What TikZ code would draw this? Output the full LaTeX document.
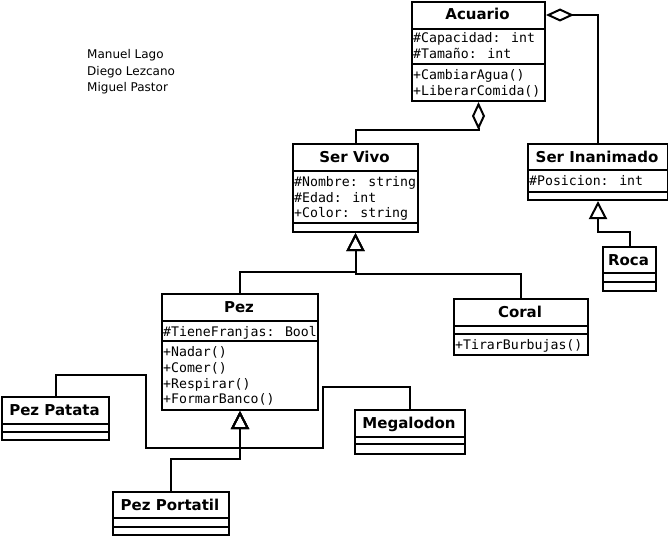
\documentclass[tikz,border=0pt]{standalone}
\usepackage{fontspec}
\newfontfamily\dvs{DejaVu Sans}
\newfontfamily\dvm{DejaVu Sans Mono}
\usetikzlibrary{arrows.meta,calc}
\begin{document}
\begin{tikzpicture}[x=1pt,y=-1pt,
  cls/.style={draw, line width=2pt, inner sep=0pt, anchor=north west, fill=white},
  sep/.style={line width=2pt},
  ttl/.style={font=\dvs\bfseries\fontsize{15}{18}\selectfont, anchor=base, inner sep=0pt},
  attr/.style={font=\dvm\fontsize{13.2}{16}\selectfont, anchor=base west, inner sep=0pt},
  who/.style={font=\dvs\fontsize{12}{16}\selectfont, anchor=base west, inner sep=0pt},
  conn/.style={line width=2pt},
  agg/.style={conn, {Diamond[open,length=28pt,width=13pt,line width=2pt]}-},
  gen/.style={conn, {Triangle[open,length=18pt,width=18pt,line width=2pt]}-},
]
\useasboundingbox (0,0) rectangle (668,535);

% authors
\node[who] (n1) at (87,59) {Manuel Lago};
\node[who] (n2) at (87,75) {Diego Lezcano};
\node[who] (n3) at (87,91) {Miguel Pastor};

% Acuario
\node[cls, minimum width=133pt, minimum height=99pt] (acuario) at (411,1) {};
\draw[sep] (411,29) -- (544,29);
\draw[sep] (411,64) -- (544,64);
\node[ttl] (acuarioT) at (477.5,20) {Acuario};
\node[attr] (a1) at (413,43) {\#Capacidad: int};
\node[attr] (a2) at (413,59) {\#Tamaño: int};
\node[attr] (a3) at (413,79) {+CambiarAgua()};
\node[attr] (a4) at (413,95) {+LiberarComida()};

% Ser Vivo
\node[cls, minimum width=125pt, minimum height=88pt] (servivo) at (292,143) {};
\draw[sep] (292,171) -- (417,171);
\draw[sep] (292,223) -- (417,223);
\node[ttl] (servivoT) at (354.5,162) {Ser Vivo};
\node[attr] (s1) at (294,186) {\#Nombre: string};
\node[attr] (s2) at (294,202) {\#Edad: int};
\node[attr] (s3) at (294,217) {+Color: string};

% Ser Inanimado
\node[cls, minimum width=140pt, minimum height=56pt] (serinan) at (527,143) {};
\draw[sep] (527,170) -- (667,170);
\draw[sep] (527,192) -- (667,192);
\node[ttl] (serinanT) at (597,162) {Ser Inanimado};
\node[attr] (i1) at (529,185) {\#Posicion: int};

% Roca
\node[cls, minimum width=53pt, minimum height=44pt] (roca) at (602,246) {};
\draw[sep] (602,273) -- (655,273);
\draw[sep] (602,282) -- (655,282);
\node[ttl] (rocaT) at (628.5,265) {Roca};

% Pez
\node[cls, minimum width=156pt, minimum height=116pt] (pez) at (161,293) {};
\draw[sep] (161,321) -- (317,321);
\draw[sep] (161,341) -- (317,341);
\node[ttl] (pezT) at (239,312) {Pez};
\node[attr] (p1) at (163,336) {\#TieneFranjas: Bool};
\node[attr] (p2) at (163,356) {+Nadar()};
\node[attr] (p3) at (163,372) {+Comer()};
\node[attr] (p4) at (163,388) {+Respirar()};
\node[attr] (p5) at (163,403) {+FormarBanco()};

% Coral
\node[cls, minimum width=134pt, minimum height=56pt] (coral) at (453,298) {};
\draw[sep] (453,326) -- (587,326);
\draw[sep] (453,334) -- (587,334);
\node[ttl] (coralT) at (520,317) {Coral};
\node[attr] (c1) at (455,349) {+TirarBurbujas()};

% Pez Patata
\node[cls, minimum width=107pt, minimum height=43pt] (pezpatata) at (1,396) {};
\draw[sep] (1,424) -- (108,424);
\draw[sep] (1,432) -- (108,432);
\node[ttl] (pezpatataT) at (54.5,415) {Pez Patata};

% Megalodon
\node[cls, minimum width=110pt, minimum height=44pt] (megalodon) at (354,409) {};
\draw[sep] (354,437) -- (464,437);
\draw[sep] (354,444) -- (464,444);
\node[ttl] (megalodonT) at (409,428) {Megalodon};

% Pez Portatil
\node[cls, minimum width=116pt, minimum height=43pt] (pezportatil) at (112,491) {};
\draw[sep] (112,518) -- (228,518);
\draw[sep] (112,527) -- (228,527);
\node[ttl] (pezportatilT) at (170,510) {Pez Portatil};

% connectors
\draw[agg] (acuario.south) -- ++(0,28) -| (servivo.north);
\draw[agg] ($(acuario.north east)+(0,14)$) -| (serinan.north);
\draw[gen] (servivo.south) -- ++(0,39) -| (pez.north);
\draw[gen] (servivo.south) -- ++(0,41) -| (coral.north);
\draw[gen] (serinan.south) -- ++(0,31) -| (roca.north);
\draw[gen] (pez.south) -- ++(0,37) -| (146,375) -| (pezpatata.north);
\draw[gen] (pez.south) -- ++(0,37) -| (323,387) -| (megalodon.north);
\draw[gen] (pez.south) -- ++(0,48) -| (pezportatil.north);
\end{tikzpicture}
\end{document}
